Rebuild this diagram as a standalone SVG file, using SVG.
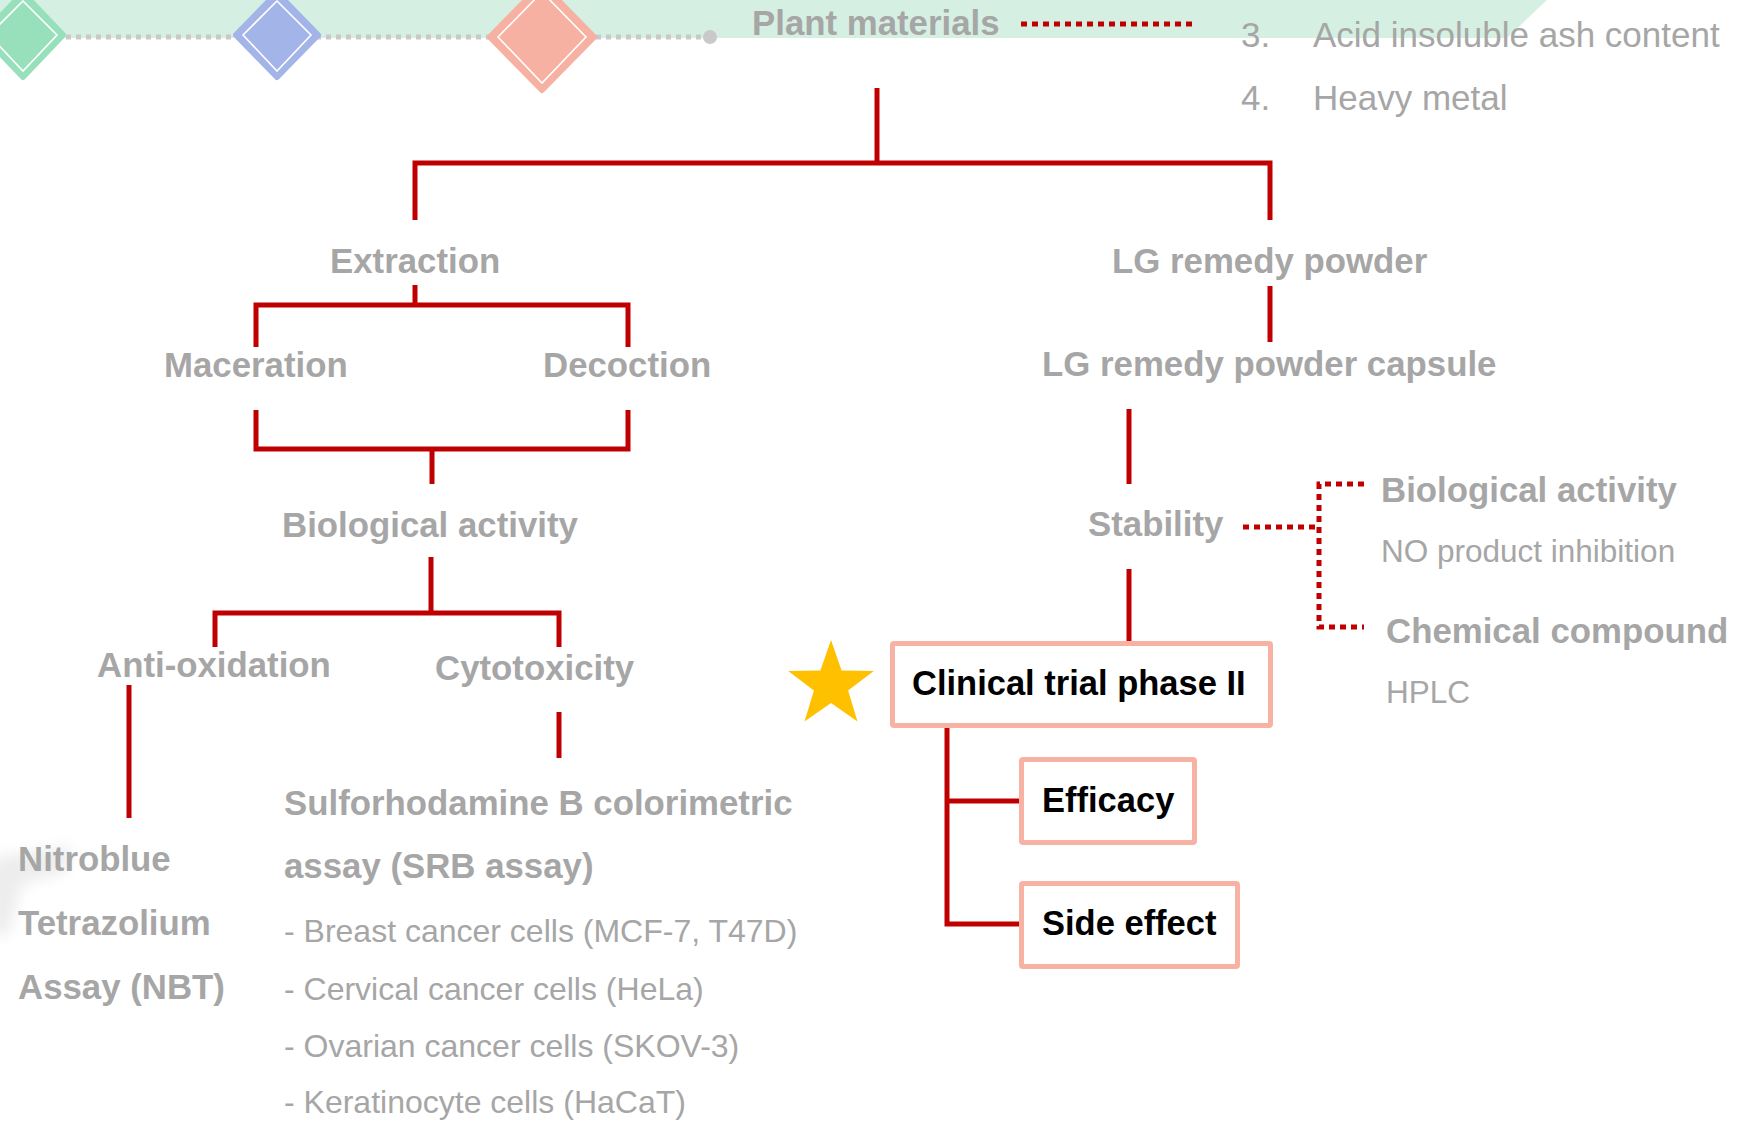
<svg xmlns="http://www.w3.org/2000/svg" width="1754" height="1121" viewBox="0 0 1754 1121">
  <style>
    .lbl { font-family: "Liberation Sans", Arial, sans-serif; font-weight: bold; font-size: 34.8px; fill: #a6a6a6; }
    .note { font-family: "Liberation Sans", Arial, sans-serif; font-size: 32px; fill: #a6a6a6; }
    .note-sm { font-family: "Liberation Sans", Arial, sans-serif; font-size: 31.5px; fill: #a6a6a6; }
    .list { font-family: "Liberation Sans", Arial, sans-serif; font-size: 35px; fill: #a6a6a6; }
    .boxtxt { font-family: "Liberation Sans", Arial, sans-serif; font-weight: bold; font-size: 34.5px; fill: #000000; }
    .box { fill: #ffffff; stroke: #f7b2a4; stroke-width: 5; }
    .link { fill: none; stroke: #c00000; stroke-width: 5; stroke-linejoin: miter; stroke-linecap: butt; }
    .dots { fill: none; stroke: #c00000; stroke-width: 5; stroke-dasharray: 6 5; }
    .inner { fill: none; stroke: #ffffff; stroke-width: 1.6; }
  </style>
  <defs>
    <filter id="soft" x="-50%" y="-50%" width="200%" height="200%">
      <feGaussianBlur stdDeviation="7"/>
    </filter>
  </defs>

  <rect width="1754" height="1121" fill="#ffffff"/>

  <!-- header band with timeline markers -->
  <g id="header">
    <polygon points="0,0 1547,0 1507,38 0,38" fill="#d5f0e2"/>
    <line x1="66" y1="37" x2="704" y2="37" stroke="#c9c9c9" stroke-width="5" stroke-dasharray="5 5"/>
    <circle cx="710" cy="37" r="7" fill="#c9c9c9"/>
    <g id="marker-green">
      <polygon points="23,-7 63,35 23,77 -17,35" fill="#98e0bb" stroke="#98e0bb" stroke-width="6" stroke-linejoin="round"/>
      <polygon points="23,1 57,35 23,71 -11,35" class="inner"/>
    </g>
    <g id="marker-blue">
      <polygon points="277,-7 318,35 277,77 236,35" fill="#a3b4e8" stroke="#a3b4e8" stroke-width="6" stroke-linejoin="round"/>
      <polygon points="277,1 311,35 277,71 243,35" class="inner"/>
    </g>
    <g id="marker-pink">
      <polygon points="542,-16 594,37 542,90 490,37" fill="#f7b1a3" stroke="#f7b1a3" stroke-width="6" stroke-linejoin="round"/>
      <polygon points="542,-8 586,37 542,83 498,37" class="inner"/>
    </g>
  </g>

  <!-- faint backdrop smudge at the left edge -->
  <path d="M-10,858 L72,846 L66,872 L22,884 L8,935 L-10,935 Z" fill="#ededed" filter="url(#soft)"/>

  <!-- connectors -->
  <g id="connectors">
    <path class="link" d="M877,88 V163"/>
    <path class="link" d="M415,220 V163 H1270 V220"/>
    <path class="link" d="M415,285 V305"/>
    <path class="link" d="M256,347 V305 H628 V347"/>
    <path class="link" d="M256,410 V449 H628 V410"/>
    <path class="link" d="M432,449 V484"/>
    <path class="link" d="M431,557 V613"/>
    <path class="link" d="M215,647 V613 H559 V647"/>
    <path class="link" d="M129,685 V818"/>
    <path class="link" d="M559,712 V758"/>
    <path class="link" d="M1270,286 V342"/>
    <path class="link" d="M1129,409 V484"/>
    <path class="link" d="M1129,569 V643"/>
    <path class="link" d="M947,709 V924 H1021"/>
    <path class="link" d="M947,801 H1021"/>
    <path class="dots" d="M1021,24 H1196"/>
    <path class="dots" d="M1243,527 H1319"/>
    <path class="dots" d="M1364,484 H1319 V627 H1364"/>
  </g>

  <g id="plant-materials"><text class="lbl" x="752" y="35">Plant materials</text></g>

  <g id="quality-list">
    <text class="list" x="1241" y="47">3.</text>
    <text class="list" x="1313" y="47">Acid insoluble ash content</text>
    <text class="list" x="1241" y="110">4.</text>
    <text class="list" x="1313" y="110">Heavy metal</text>
  </g>

  <g id="extraction"><text class="lbl" x="330" y="273">Extraction</text></g>
  <g id="lg-powder"><text class="lbl" x="1112" y="273">LG remedy powder</text></g>
  <g id="maceration"><text class="lbl" x="164" y="377">Maceration</text></g>
  <g id="decoction"><text class="lbl" x="543" y="377">Decoction</text></g>
  <g id="lg-capsule"><text class="lbl" x="1042" y="376">LG remedy powder capsule</text></g>
  <g id="bio-activity"><text class="lbl" x="282" y="537">Biological activity</text></g>
  <g id="stability"><text class="lbl" x="1088" y="536">Stability</text></g>
  <g id="anti-oxidation"><text class="lbl" x="97" y="677">Anti-oxidation</text></g>
  <g id="cytotoxicity"><text class="lbl" x="435" y="680">Cytotoxicity</text></g>

  <g id="stability-bio">
    <text class="lbl" x="1381" y="502">Biological activity</text>
    <text class="note-sm" x="1381" y="562">NO product inhibition</text>
  </g>
  <g id="stability-chem">
    <text class="lbl" x="1386" y="643">Chemical compound</text>
    <text class="note-sm" x="1386" y="703">HPLC</text>
  </g>

  <g id="nbt">
    <text class="lbl" x="18" y="871">Nitroblue</text>
    <text class="lbl" x="18" y="935">Tetrazolium</text>
    <text class="lbl" x="18" y="999">Assay (NBT)</text>
  </g>

  <g id="srb">
    <text class="lbl" x="284" y="815">Sulforhodamine B colorimetric</text>
    <text class="lbl" x="284" y="878">assay (SRB assay)</text>
    <text class="note" x="284" y="942">- Breast cancer cells (MCF-7, T47D)</text>
    <text class="note" x="284" y="1000">- Cervical cancer cells (HeLa)</text>
    <text class="note" x="284" y="1057">- Ovarian cancer cells (SKOV-3)</text>
    <text class="note" x="284" y="1113">- Keratinocyte cells (HaCaT)</text>
  </g>

  <g id="star">
    <polygon points="831,640 841.6,670.4 873.8,671.1 848.1,690.6 857.5,721.4 831,703 804.5,721.4 813.9,690.6 788.2,671.1 820.4,670.4" fill="#ffc000"/>
  </g>

  <g id="clinical-trial">
    <rect class="box" x="892.5" y="643.5" width="378" height="82" rx="1.5"/>
    <text class="boxtxt" x="912" y="695">Clinical trial phase II</text>
  </g>
  <g id="efficacy">
    <rect class="box" x="1021.5" y="759.5" width="173" height="83" rx="1.5"/>
    <text class="boxtxt" x="1042" y="812">Efficacy</text>
  </g>
  <g id="side-effect">
    <rect class="box" x="1021.5" y="883.5" width="216" height="83" rx="1.5"/>
    <text class="boxtxt" x="1042" y="935">Side effect</text>
  </g>
</svg>
